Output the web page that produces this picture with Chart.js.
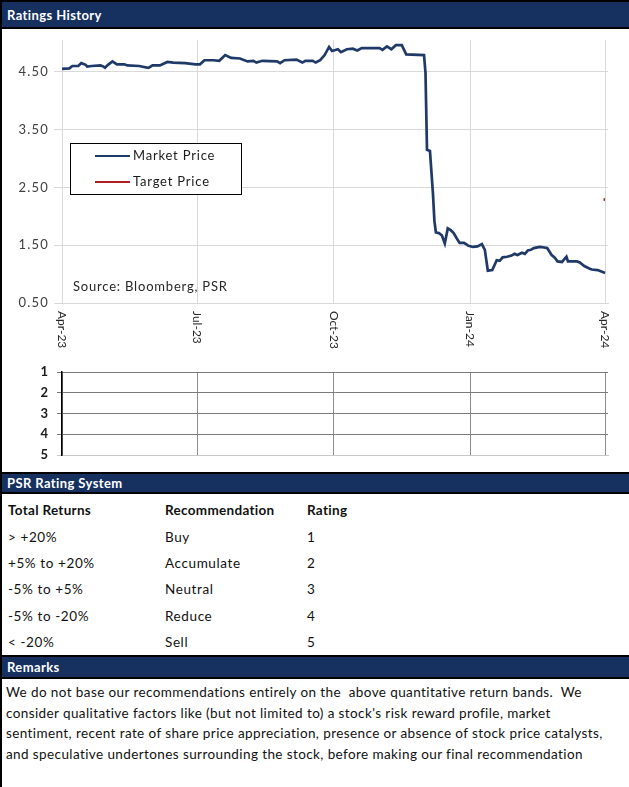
<!DOCTYPE html>
<html>
<head>
<meta charset="utf-8">
<title>Ratings History</title>
<script src="https://cdn.jsdelivr.net/npm/chart.js@4.4.1/dist/chart.umd.min.js"></script>
<style>
  body { margin: 0; background: #fff; font-family: Lato, "Open Sans", sans-serif; color: #111; }
  #page { position: relative; width: 629px; height: 787px; overflow: hidden; background: #fff; }
  .rule { position: absolute; left: 0; top: 0; width: 2px; height: 787px; background: #000; z-index: 2; }
  .bar {
    position: absolute; left: 0; width: 629px; box-sizing: border-box;
    background: #16315f; border-top: 2px solid #000; border-bottom: 2px solid #000;
    color: #fff; font-weight: 700; font-size: 13px; letter-spacing: 0.4px; padding-left: 7px;
    display: flex; align-items: center;
  }
  .box { position: absolute; left: 0; width: 629px; }
  table { position: absolute; left: 8px; top: 497px; border-collapse: collapse; font-size: 13.5px; letter-spacing: 0.6px; }
  td { padding: 0; height: 26.4px; vertical-align: middle; }
  td.c1 { width: 157px; }
  td.c2 { width: 142px; }
  tr.head td { font-weight: 700; letter-spacing: 0.3px; }
  #remarks { position: absolute; left: 6px; top: 682px; font-size: 13.5px; letter-spacing: 0.4px; line-height: 20.7px; white-space: pre; }
</style>
</head>
<body>
<div id="page">
  <div class="rule"></div>
  <div class="bar" style="top:0;height:29px">Ratings History</div>
  <div class="box" style="top:29px;height:320px"><canvas id="priceChart"></canvas></div>
  <div class="box" style="top:360px;height:110px"><canvas id="ratingChart"></canvas></div>

  <div class="bar" style="top:472px;height:22px">PSR Rating System</div>
  <table>
    <tr class="head"><td class="c1">Total Returns</td><td class="c2">Recommendation</td><td>Rating</td></tr>
    <tr><td class="c1">&gt; +20%</td><td class="c2">Buy</td><td>1</td></tr>
    <tr><td class="c1">+5% to +20%</td><td class="c2">Accumulate</td><td>2</td></tr>
    <tr><td class="c1">-5% to +5%</td><td class="c2">Neutral</td><td>3</td></tr>
    <tr><td class="c1">-5% to -20%</td><td class="c2">Reduce</td><td>4</td></tr>
    <tr><td class="c1">&lt; -20%</td><td class="c2">Sell</td><td>5</td></tr>
  </table>

  <div class="bar" style="top:655px;height:24px">Remarks</div>
  <div id="remarks">We do not base our recommendations entirely on the  above quantitative return bands.  We
consider qualitative factors like (but not limited to) a stock's risk reward profile, market
sentiment, recent rate of share price appreciation, presence or absence of stock price catalysts,
and speculative undertones surrounding the stock, before making our final recommendation</div>
</div>

<script>
// price history
const marketDates = [
  '2023-04-01','2023-04-06','2023-04-08','2023-04-12','2023-04-14','2023-04-17','2023-04-18','2023-04-21',
  '2023-04-27','2023-04-29','2023-04-30','2023-05-02','2023-05-05','2023-05-08','2023-05-13','2023-05-15',
  '2023-05-23','2023-05-29','2023-05-30','2023-06-01','2023-06-06','2023-06-11','2023-06-15','2023-06-23',
  '2023-06-30','2023-07-03','2023-07-06','2023-07-12','2023-07-16','2023-07-20','2023-07-24','2023-07-30',
  '2023-08-04','2023-08-08','2023-08-10','2023-08-14','2023-08-24','2023-08-26','2023-08-29','2023-09-06',
  '2023-09-10','2023-09-12','2023-09-17','2023-09-19','2023-09-22','2023-09-25','2023-09-28','2023-09-30',
  '2023-10-04','2023-10-06','2023-10-10','2023-10-14','2023-10-17','2023-10-20','2023-11-01','2023-11-03',
  '2023-11-06','2023-11-09','2023-11-12','2023-11-16','2023-11-19','2023-12-01','2023-12-02','2023-12-03',
  '2023-12-05','2023-12-07','2023-12-08','2023-12-09','2023-12-11','2023-12-13','2023-12-15','2023-12-17',
  '2023-12-19','2023-12-21','2023-12-23','2023-12-25','2023-12-28','2023-12-31','2024-01-03','2024-01-06',
  '2024-01-09','2024-01-11','2024-01-13','2024-01-16','2024-01-19','2024-01-21','2024-01-23','2024-01-26',
  '2024-01-29','2024-01-31','2024-02-02','2024-02-05','2024-02-07','2024-02-09','2024-02-11','2024-02-13',
  '2024-02-17','2024-02-20','2024-02-22','2024-02-25','2024-02-27','2024-02-29','2024-03-03','2024-03-04',
  '2024-03-06','2024-03-07','2024-03-09','2024-03-13','2024-03-15','2024-03-18','2024-03-21','2024-03-23',
  '2024-03-27','2024-03-30','2024-04-01'
];
const marketPrices = [
  4.55, 4.56, 4.60, 4.60, 4.65, 4.62, 4.59, 4.60,
  4.61, 4.59, 4.57, 4.62, 4.68, 4.63, 4.63, 4.61,
  4.60, 4.57, 4.58, 4.61, 4.61, 4.67, 4.66, 4.65,
  4.63, 4.63, 4.70, 4.70, 4.69, 4.79, 4.74, 4.73,
  4.68, 4.69, 4.66, 4.69, 4.68, 4.65, 4.70, 4.71,
  4.66, 4.69, 4.69, 4.66, 4.70, 4.79, 4.93, 4.86,
  4.89, 4.84, 4.89, 4.90, 4.87, 4.91, 4.91, 4.88,
  4.94, 4.89, 4.96, 4.96, 4.80, 4.79, 4.48, 3.15,
  3.13, 2.40, 1.92, 1.72, 1.71, 1.67, 1.53, 1.79,
  1.76, 1.71, 1.62, 1.54, 1.54, 1.49, 1.47, 1.48,
  1.52, 1.42, 1.06, 1.07, 1.24, 1.23, 1.29, 1.30,
  1.32, 1.35, 1.33, 1.37, 1.35, 1.41, 1.42, 1.45,
  1.47, 1.46, 1.45, 1.33, 1.29, 1.22, 1.21, 1.24,
  1.30, 1.22, 1.22, 1.22, 1.20, 1.14, 1.10, 1.08,
  1.07, 1.04, 1.02
];
const targetDates = ['2024-03-31', '2024-04-01'];
const targetPrices = [2.29, 2.29];

// ratings issued (none in this window)
const ratingDates = [];
const ratingValues = [];

const xTickDates = ['2023-04-01', '2023-07-01', '2023-10-01', '2024-01-01', '2024-04-01'];
const xTickLabels = ['Apr-23', 'Jul-23', 'Oct-23', 'Jan-24', 'Apr-24'];
const priceTicks = [0.5, 1.5, 2.5, 3.5, 4.5];
const ratingTicks = [1, 2, 3, 4, 5];

const base = Date.UTC(2023, 3, 1);
function dayOf(s) {
  const [y, m, d] = s.split('-').map(Number);
  return Math.round((Date.UTC(y, m - 1, d) - base) / 86400000);
}
const toPoints = (dates, vals) => dates.map((d, i) => ({ x: dayOf(d), y: vals[i] }));
const quarterTicks = s => { s.ticks = xTickDates.map(d => ({ value: dayOf(d) })); };
// keep the plot box where the layout padding puts it
const fixWidth = s => { s.width = 62; s.paddingTop = 0; s.paddingBottom = 0; };

const spacedTicks = {
  id: 'spacedTicks',
  beforeDraw(chart) { chart.ctx.letterSpacing = '1.2px'; }
};

// rotated month labels, boxed legend and source note
const priceExtras = {
  id: 'priceExtras',
  afterDraw(chart) {
    const { ctx, chartArea: a, scales: { x } } = chart;
    ctx.save();
    ctx.letterSpacing = '0px';
    ctx.font = '12px Lato';
    ctx.fillStyle = '#262626';
    ctx.textAlign = 'left';
    ctx.textBaseline = 'middle';
    xTickDates.forEach((d, i) => {
      ctx.save();
      ctx.translate(x.getPixelForValue(dayOf(d)), a.bottom + 8);
      ctx.rotate(Math.PI / 2);
      ctx.fillText(xTickLabels[i], 0, 0);
      ctx.restore();
    });

    const lx = a.left + 8, ly = a.top + 103;
    ctx.fillStyle = '#fff';
    ctx.fillRect(lx, ly, 171, 51);
    ctx.strokeStyle = '#000';
    ctx.lineWidth = 1;
    ctx.strokeRect(lx + 0.5, ly + 0.5, 171, 51);
    ctx.font = '13px Lato';
    ctx.letterSpacing = '0.8px';
    chart.data.datasets.forEach((ds, i) => {
      const yy = ly + 13 + i * 26;
      ctx.strokeStyle = ds.borderColor;
      ctx.lineWidth = 2;
      ctx.beginPath();
      ctx.moveTo(lx + 25, yy);
      ctx.lineTo(lx + 60, yy);
      ctx.stroke();
      ctx.fillStyle = '#1a1a1a';
      ctx.fillText(ds.label, lx + 63, yy);
    });

    ctx.fillStyle = '#262626';
    ctx.fillText('Source: Bloomberg, PSR', a.left + 11, a.top + 247);
    ctx.restore();
  }
};

new Chart(document.getElementById('priceChart'), {
  type: 'line',
  data: {
    datasets: [
      { label: 'Market Price', data: toPoints(marketDates, marketPrices), borderColor: '#1f3a68',
        borderWidth: 2.7, pointRadius: 0, tension: 0 },
      { label: 'Target Price', data: toPoints(targetDates, targetPrices), borderColor: '#b01e1e',
        borderWidth: 2.7, pointRadius: 0 }
    ]
  },
  options: {
    responsive: true,
    maintainAspectRatio: false,
    animation: false,
    layout: { padding: { top: 11, right: 21, left: 0, bottom: 0 } },
    plugins: { legend: { display: false }, tooltip: { enabled: false } },
    scales: {
      x: {
        type: 'linear', min: 0, max: 368,
        afterBuildTicks: quarterTicks,
        afterFit: s => { s.height = 46; },
        ticks: { display: false },
        grid: { color: '#d9d9d9', drawTicks: false },
        border: { color: '#d9d9d9' }
      },
      y: {
        min: 0.5, max: 5.05,
        afterBuildTicks: s => { s.ticks = priceTicks.map(v => ({ value: v })); },
        afterFit: fixWidth,
        ticks: { callback: v => v.toFixed(2), color: '#404040', font: { family: 'Lato', size: 13 }, padding: 5 },
        grid: { color: '#d9d9d9', tickLength: 8 },
        border: { display: false }
      }
    }
  },
  plugins: [spacedTicks, priceExtras]
});

new Chart(document.getElementById('ratingChart'), {
  type: 'line',
  data: {
    datasets: [
      { label: 'Rating', data: toPoints(ratingDates, ratingValues), borderColor: '#1f3a68', pointRadius: 2 }
    ]
  },
  options: {
    responsive: true,
    maintainAspectRatio: false,
    animation: false,
    layout: { padding: { top: 12, right: 21, left: 0, bottom: 0 } },
    plugins: { legend: { display: false }, tooltip: { enabled: false } },
    scales: {
      x: {
        type: 'linear', min: 0, max: 368,
        afterBuildTicks: quarterTicks,
        afterFit: s => { s.height = 15; },
        ticks: { display: false },
        grid: { color: '#8c8c8c', drawTicks: false },
        border: { color: '#c8c8c8' }
      },
      y: {
        reverse: true, min: 1, max: 5,
        afterBuildTicks: s => { s.ticks = ratingTicks.map(v => ({ value: v })); },
        afterFit: fixWidth,
        ticks: { color: '#1a1a1a', font: { family: 'Lato', size: 13, weight: 'bold' }, padding: 9 },
        grid: { color: c => (c.tick && c.tick.value === 5 ? '#c8c8c8' : '#7a7a7a'), tickLength: 5 },
        border: { color: '#000', width: 1.5 }
      }
    }
  }
});
</script>
</body>
</html>
